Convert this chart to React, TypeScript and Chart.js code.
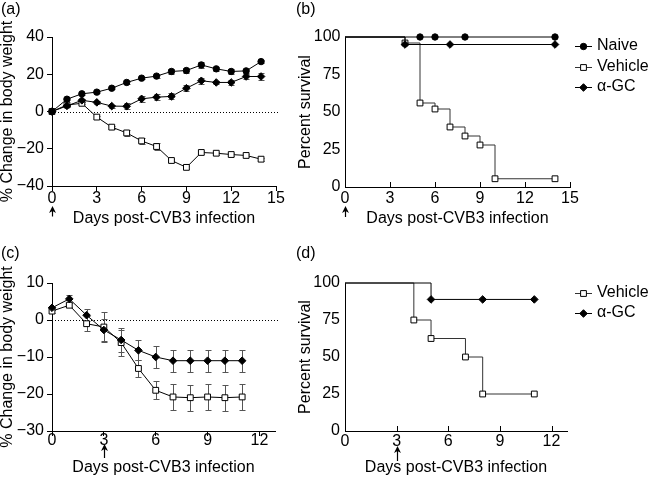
import React, { useEffect, useRef } from 'react';
import { Chart, registerables } from 'chart.js';
Chart.register(...registerables);

const W = 653;
const H = 477;
const FONT = '"Liberation Sans", Arial, Helvetica, sans-serif';

// ---------- Panel (a): body weight ----------
const daysA = [0, 1, 2, 3, 4, 5, 6, 7, 8, 9, 10, 11, 12, 13, 14];
const naiveWeightA = [0, 6.6, 9.5, 10.4, 12.5, 15.6, 17.9, 19, 21.5, 22, 25, 22.9, 21.5, 21.8, 26.8];
const naiveErrA = [0.3, 0.5, 0.5, 0.5, 0.5, 0.6, 0.6, 0.8, 1.5, 1.5, 1.6, 1.2, 1.3, 1.2, 0.8];
const agcWeightA = [0, 3, 6, 4.9, 2.9, 2.8, 6.8, 7.7, 8.1, 12.5, 16.5, 15.6, 15.6, 18.8, 18.8];
const agcErrA = [0.3, 0.5, 0.8, 0.8, 0.8, 1.6, 1.6, 1.6, 1.6, 1.5, 1.5, 1.0, 1.4, 1.5, 2.0];
const vehicleWeightA = [0, 3.5, 4.4, -3, -8.4, -11.5, -15.8, -18.8, -26.3, -30, -22, -22.4, -23.1, -23.6, -25.6];
const vehicleErrA = [0.3, 0.5, 0.6, 0.8, 0.8, 1.8, 1.8, 1.8, 0.8, 0.8, 0.8, 0.7, 0.7, 0.7, 0.8];
const xTicksA = [0, 3, 6, 9, 12, 15];
const yTicksA = [-40, -20, 0, 20, 40];

// ---------- Panel (b): survival ----------
const naiveDaysB = [0, 5, 6, 8, 14];
const naiveSurvB = [100, 100, 100, 100, 100];
const vehicleDaysB = [0, 4, 5, 6, 7, 8, 9, 10, 14];
const vehicleSurvB = [100, 96, 56, 52, 40, 34, 28, 5.5, 5.5];
const agcDaysB = [0, 4, 7, 14];
const agcSurvB = [100, 95, 95, 95];
const xTicksB = [0, 3, 6, 9, 12, 15];
const yTicksB = [0, 25, 50, 75, 100];

// ---------- Panel (c): body weight ----------
const daysC = [0, 1, 2, 3, 4, 5, 6, 7, 8, 9, 10, 11];
const agcWeightC = [3.3, 5.7, 1.3, -2.7, -5.4, -8.2, -10, -11, -11, -11, -11, -11];
const agcErrC = [0.5, 1.1, 1.7, 3.0, 3.2, 2.7, 3.0, 3.0, 3.0, 3.0, 3.0, 3.0];
const vehicleWeightC = [2.4, 4.0, -1.0, -1.9, -6.1, -13.1, -19, -20.8, -21, -20.8, -21, -20.8];
const vehicleErrC = [0.4, 0.5, 2.0, 4.1, 3.5, 2.2, 2.4, 3.5, 3.5, 3.5, 3.5, 3.5];
const xTicksC = [0, 3, 6, 9, 12];
const yTicksC = [-30, -20, -10, 0, 10];

// ---------- Panel (d): survival ----------
const vehicleDaysD = [0, 4, 5, 7, 8, 11];
const vehicleSurvD = [100, 75, 62.5, 50, 25, 25];
const agcDaysD = [0, 5, 8, 11];
const agcSurvD = [100, 88.9, 88.9, 88.9];
const xTicksD = [0, 3, 6, 9, 12];
const yTicksD = [0, 25, 50, 75, 100];

const legendB = ['Naive', 'Vehicle', '\u03b1-GC'];
const legendD = ['Vehicle', '\u03b1-GC'];

type Kind = 'circle' | 'rect' | 'rectRot';
const MARK: Record<string, { kind: Kind; r: number; fill: string }> = {
  naive: { kind: 'circle', r: 3.2, fill: '#000' },
  vehicle: { kind: 'rect', r: 4.1, fill: '#fff' },
  agc: { kind: 'rectRot', r: 3.8, fill: '#000' },
};

const fmt = (v: number) => (v < 0 ? '\u2212' + Math.abs(v) : String(v));

function series(label: string, xs: number[], ys: number[], mk: string, opts: any = {}) {
  const m = MARK[mk];
  const from = opts.markFrom || 0;
  return {
    label,
    data: xs.map((x, i) => ({ x, y: ys[i] })),
    borderColor: opts.lineColor || '#000',
    borderWidth: 1,
    pointStyle: m.kind,
    pointRadius: xs.map((_, i) => (i < from ? 0 : m.r)),
    pointBackgroundColor: m.fill,
    pointBorderColor: '#000',
    pointBorderWidth: 1,
    stepped: opts.stepped || false,
    clip: false,
    fill: false,
    tension: 0,
  };
}

function drawMarker(ctx: CanvasRenderingContext2D, mk: string, x: number, y: number) {
  const m = MARK[mk];
  ctx.save();
  ctx.fillStyle = m.fill;
  ctx.strokeStyle = '#000';
  ctx.lineWidth = 1;
  ctx.beginPath();
  if (m.kind === 'circle') {
    ctx.arc(x, y, m.r, 0, Math.PI * 2);
  } else if (m.kind === 'rect') {
    const s = m.r * Math.SQRT1_2;
    ctx.rect(x - s, y - s, 2 * s, 2 * s);
  } else {
    ctx.moveTo(x, y - m.r);
    ctx.lineTo(x + m.r, y);
    ctx.lineTo(x, y + m.r);
    ctx.lineTo(x - m.r, y);
    ctx.closePath();
  }
  ctx.fill();
  ctx.stroke();
  ctx.restore();
}

type Extra = {
  label: string;
  labelX: number;
  labelY: number;
  zeroLine?: boolean;
  arrowAt: number;
  arrowTop: number;
  arrowBottom: number;
  innerTicks?: number[];
  errorBars?: { ds: number; err: number[] }[];
  legend?: { text: string; mk: string; color: string; y: number }[];
};

function extrasPlugin(ex: Extra) {
  return {
    id: 'extras',
    beforeDatasetsDraw(chart: any) {
      const { ctx, chartArea: ca, scales } = chart;
      const ys = scales.y;
      ctx.save();
      if (ex.zeroLine) {
        const y0 = Math.round(ys.getPixelForValue(0)) + 0.5;
        ctx.strokeStyle = '#000';
        ctx.lineWidth = 1;
        ctx.setLineDash([1, 2]);
        ctx.beginPath();
        ctx.moveTo(ca.left, y0);
        ctx.lineTo(ca.right + 3, y0);
        ctx.stroke();
        ctx.setLineDash([]);
      }
      (ex.errorBars || []).forEach(({ ds, err }) => {
        const meta = chart.getDatasetMeta(ds);
        const data = chart.data.datasets[ds].data;
        ctx.strokeStyle = '#555';
        ctx.lineWidth = 1;
        meta.data.forEach((pt: any, i: number) => {
          const v = data[i].y;
          const e = err[i];
          const x = Math.round(pt.x) + 0.5;
          const yt = Math.round(ys.getPixelForValue(v + e)) + 0.5;
          const yb = Math.round(ys.getPixelForValue(v - e)) + 0.5;
          ctx.beginPath();
          ctx.moveTo(x, yt);
          ctx.lineTo(x, yb);
          ctx.moveTo(x - 3, yt);
          ctx.lineTo(x + 3, yt);
          ctx.moveTo(x - 3, yb);
          ctx.lineTo(x + 3, yb);
          ctx.stroke();
        });
      });
      ctx.restore();
    },
    afterDraw(chart: any) {
      const { ctx, chartArea: ca, scales } = chart;
      const xs = scales.x;
      ctx.save();
      ctx.strokeStyle = '#000';
      ctx.fillStyle = '#000';
      ctx.lineWidth = 1;
      // inward ticks on x axis
      (ex.innerTicks || []).forEach((v) => {
        if (v === 0) return;
        const x = Math.round(xs.getPixelForValue(v)) + 0.5;
        ctx.beginPath();
        ctx.moveTo(x, ca.bottom);
        ctx.lineTo(x, ca.bottom - 5);
        ctx.stroke();
      });
      // arrow marking infection day
      const ax = Math.round(xs.getPixelForValue(ex.arrowAt)) + 0.5;
      ctx.lineWidth = 1.2;
      ctx.beginPath();
      ctx.moveTo(ax, ex.arrowTop + 4);
      ctx.lineTo(ax, ex.arrowBottom);
      ctx.stroke();
      ctx.beginPath();
      ctx.moveTo(ax, ex.arrowTop);
      ctx.lineTo(ax + 3.5, ex.arrowTop + 7);
      ctx.lineTo(ax, ex.arrowTop + 5);
      ctx.lineTo(ax - 3.5, ex.arrowTop + 7);
      ctx.closePath();
      ctx.fill();
      ctx.lineWidth = 1;
      // panel label
      ctx.font = `16px ${FONT}`;
      ctx.textBaseline = 'middle';
      ctx.textAlign = 'left';
      ctx.fillText(ex.label, ex.labelX, ex.labelY);
      // legend
      (ex.legend || []).forEach((it) => {
        const y = Math.round(it.y) + 0.5;
        ctx.strokeStyle = it.color;
        ctx.beginPath();
        ctx.moveTo(575, y);
        ctx.lineTo(592, y);
        ctx.stroke();
        drawMarker(ctx, it.mk, 583.5, y);
        ctx.fillStyle = '#000';
        ctx.fillText(it.text, 597, it.y);
      });
      ctx.restore();
    },
  };
}

type Panel = {
  left: number;
  right: number;
  top: number;
  bottom: number;
  yTitleX: number;
  xTitleY: number;
  xMin: number;
  xMax: number;
  yMin: number;
  yMax: number;
  xTicks: number[];
  yTicks: number[];
  outward: boolean;
  xTickPad: number;
  yTickPad: number;
  yTitle: string;
  datasets: any[];
  extra: Extra;
};

function buildConfig(p: Panel): any {
  const tickFont = { family: FONT, size: 16, lineHeight: 1 };
  const titleFont = { family: FONT, size: 16, lineHeight: 1.2 };
  const gridOpts = {
    display: true,
    drawOnChartArea: false,
    drawTicks: p.outward,
    tickLength: 5,
    color: '#000',
    lineWidth: 1,
  };
  return {
    type: 'line',
    data: { datasets: p.datasets },
    options: {
      responsive: false,
      animation: false,
      devicePixelRatio: 1,
      events: [],
      layout: { padding: { left: 0, top: p.top, right: W - p.right, bottom: 0 } },
      plugins: { legend: { display: false }, tooltip: { enabled: false } },
      scales: {
        x: {
          type: 'linear',
          min: p.xMin,
          max: p.xMax,
          afterBuildTicks: (s: any) => {
            s.ticks = p.xTicks.map((v) => ({ value: v }));
          },
          afterFit: (s: any) => {
            s.height = H - p.bottom;
          },
          grid: gridOpts,
          border: { display: true, color: '#000', width: 1 },
          ticks: {
            color: '#000',
            font: tickFont,
            padding: p.xTickPad,
            maxRotation: 0,
            autoSkip: false,
            callback: (v: number) => fmt(v),
          },
          title: {
            display: true,
            text: 'Days post-CVB3 infection',
            color: '#000',
            font: titleFont,
            padding: { top: 0, bottom: H - 9.6 - p.xTitleY },
          },
        },
        y: {
          type: 'linear',
          min: p.yMin,
          max: p.yMax,
          afterBuildTicks: (s: any) => {
            s.ticks = p.yTicks.map((v) => ({ value: v }));
          },
          afterFit: (s: any) => {
            s.width = p.left;
          },
          grid: gridOpts,
          border: { display: true, color: '#000', width: 1 },
          ticks: {
            color: '#000',
            font: tickFont,
            padding: p.yTickPad,
            autoSkip: false,
            callback: (v: number) => fmt(v),
          },
          title: {
            display: true,
            text: p.yTitle,
            color: '#000',
            font: titleFont,
            padding: { top: p.yTitleX - 9.6, bottom: 0 },
          },
        },
      },
    },
    plugins: [extrasPlugin(p.extra)],
  };
}

const panels: Panel[] = [
  {
    left: 52, right: 276, top: 37, bottom: 186, yTitleX: 8, xTitleY: 218.5,
    xMin: 0, xMax: 15, yMin: -40, yMax: 40, xTicks: xTicksA, yTicks: yTicksA,
    outward: true, xTickPad: 0, yTickPad: 3, yTitle: '% Change in body weight',
    datasets: [
      series('Naive', daysA, naiveWeightA, 'naive'),
      series('\u03b1-GC', daysA, agcWeightA, 'agc'),
      series('Vehicle', daysA, vehicleWeightA, 'vehicle'),
    ],
    extra: {
      label: '(a)', labelX: 1, labelY: 10, zeroLine: true,
      arrowAt: 0, arrowTop: 206, arrowBottom: 216.5,
      errorBars: [
        { ds: 0, err: naiveErrA },
        { ds: 1, err: agcErrA },
        { ds: 2, err: vehicleErrA },
      ],
    },
  },
  {
    left: 345, right: 570, top: 37, bottom: 187, yTitleX: 305.5, xTitleY: 219,
    xMin: 0, xMax: 15, yMin: 0, yMax: 100, xTicks: xTicksB, yTicks: yTicksB,
    outward: false, xTickPad: 3.5, yTickPad: 4.5, yTitle: 'Percent survival',
    datasets: [
      series('Naive', naiveDaysB, naiveSurvB, 'naive', { stepped: true, markFrom: 1 }),
      series('\u03b1-GC', agcDaysB, agcSurvB, 'agc', { stepped: true, markFrom: 1 }),
      series('Vehicle', vehicleDaysB, vehicleSurvB, 'vehicle', { stepped: true, markFrom: 1, lineColor: '#333' }),
    ],
    extra: {
      label: '(b)', labelX: 296, labelY: 10,
      arrowAt: 0, arrowTop: 206, arrowBottom: 217,
      innerTicks: xTicksB,
      legend: [
        { text: legendB[0], mk: 'naive', color: '#000', y: 46 },
        { text: legendB[1], mk: 'vehicle', color: '#333', y: 66.5 },
        { text: legendB[2], mk: 'agc', color: '#000', y: 86.5 },
      ],
    },
  },
  {
    left: 52, right: 275, top: 283, bottom: 431, yTitleX: 8, xTitleY: 467.5,
    xMin: 0, xMax: 12.9, yMin: -30, yMax: 10, xTicks: xTicksC, yTicks: yTicksC,
    outward: true, xTickPad: -3, yTickPad: 3, yTitle: '% Change in body weight',
    datasets: [
      series('\u03b1-GC', daysC, agcWeightC, 'agc'),
      series('Vehicle', daysC, vehicleWeightC, 'vehicle'),
    ],
    extra: {
      label: '(c)', labelX: 1, labelY: 253.5, zeroLine: true,
      arrowAt: 3, arrowTop: 444, arrowBottom: 458,
      errorBars: [
        { ds: 0, err: agcErrC },
        { ds: 1, err: vehicleErrC },
      ],
    },
  },
  {
    left: 345, right: 567, top: 283, bottom: 431, yTitleX: 305.5, xTitleY: 467.5,
    xMin: 0, xMax: 12.9, yMin: 0, yMax: 100, xTicks: xTicksD, yTicks: yTicksD,
    outward: false, xTickPad: 3, yTickPad: 5, yTitle: 'Percent survival',
    datasets: [
      series('\u03b1-GC', agcDaysD, agcSurvD, 'agc', { stepped: true, markFrom: 1 }),
      series('Vehicle', vehicleDaysD, vehicleSurvD, 'vehicle', { stepped: true, markFrom: 1, lineColor: '#333' }),
    ],
    extra: {
      label: '(d)', labelX: 296, labelY: 253.5,
      arrowAt: 3, arrowTop: 446, arrowBottom: 461,
      innerTicks: xTicksD,
      legend: [
        { text: legendD[0], mk: 'vehicle', color: '#333', y: 292.5 },
        { text: legendD[1], mk: 'agc', color: '#000', y: 312.5 },
      ],
    },
  },
];

function PanelCanvas({ panel }: { panel: Panel }) {
  const ref = useRef<HTMLCanvasElement | null>(null);
  useEffect(() => {
    if (!ref.current) return;
    const chart = new Chart(ref.current, buildConfig(panel));
    return () => chart.destroy();
  }, [panel]);
  return (
    <canvas
      ref={ref}
      width={W}
      height={H}
      style={{ position: 'absolute', left: 0, top: 0, width: W, height: H }}
    />
  );
}

export default function App() {
  return (
    <div style={{ position: 'absolute', left: 0, top: 0, width: W, height: H, background: '#fff' }}>
      {panels.map((p, i) => (
        <PanelCanvas key={i} panel={p} />
      ))}
    </div>
  );
}
